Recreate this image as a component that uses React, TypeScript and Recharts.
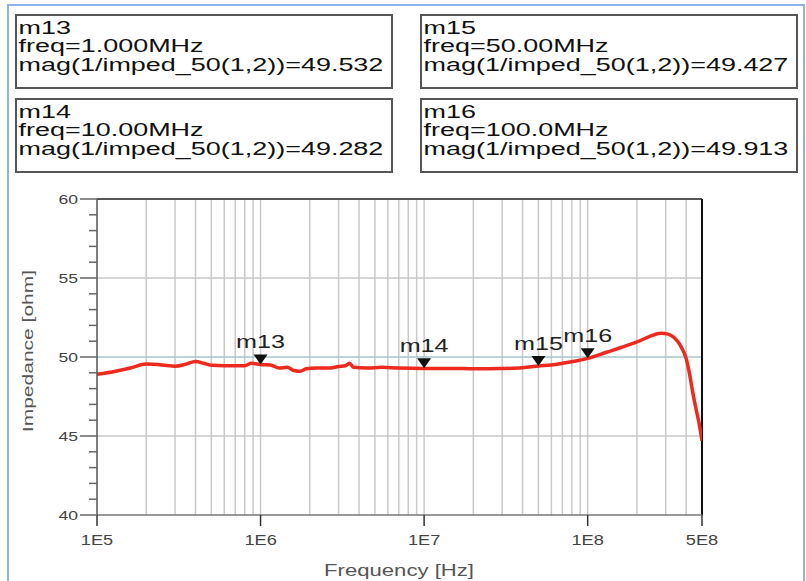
import React from 'react';
import { LineChart, Line, XAxis, YAxis, ReferenceLine, ReferenceDot } from 'recharts';

// measured trace (Hz, ohm)
const freqs = [
  1e5, 1.3e5, 1.6e5, 2e5, 2.5e5, 3e5, 3.5e5, 4e5, 4.5e5, 5e5, 6e5, 7e5, 8e5, 8.8e5,
  1e6, 1.15e6, 1.3e6, 1.45e6, 1.6e6, 1.75e6, 1.9e6, 2.2e6, 2.6e6, 3e6, 3.3e6, 3.5e6, 3.7e6,
  4.5e6, 5.5e6, 7e6, 1e7, 1.5e7, 2e7, 3e7, 4e7, 5e7, 6e7, 7e7, 8.5e7, 1e8, 1.3e8, 1.6e8,
  2e8, 2.4e8, 2.8e8, 3.1e8, 3.4e8, 3.7e8, 4e8, 4.2e8, 4.4e8, 4.6e8, 4.8e8, 5e8,
];
const imped = [
  48.9, 49.1, 49.3, 49.55, 49.5, 49.42, 49.55, 49.72, 49.6, 49.48, 49.45, 49.45, 49.45, 49.6,
  49.53, 49.5, 49.3, 49.35, 49.15, 49.1, 49.25, 49.3, 49.3, 49.4, 49.45, 49.6, 49.35,
  49.3, 49.35, 49.3, 49.28, 49.28, 49.25, 49.27, 49.32, 49.43, 49.5, 49.6, 49.75, 49.91, 50.3, 50.6,
  50.95, 51.3, 51.5, 51.45, 51.2, 50.7, 49.9, 48.9, 47.7, 46.7, 45.8, 44.7,
];

const markerNames = ['m13', 'm14', 'm15', 'm16'];
const markerFreqs = [1e6, 1e7, 5e7, 1e8];
const markerFreqText = ['1.000MHz', '10.00MHz', '50.00MHz', '100.0MHz'];
const markerVals = [49.532, 49.282, 49.427, 49.913];

const xTicks = [1e5, 1e6, 1e7, 1e8, 5e8];
const xTickLabels = ['1E5', '1E6', '1E7', '1E8', '5E8'];
const yTicks = [40, 41, 42, 43, 44, 45, 46, 47, 48, 49, 50, 51, 52, 53, 54, 55, 56, 57, 58, 59, 60];
const gridFreqs = [
  2e5, 3e5, 4e5, 5e5, 6e5, 7e5, 8e5, 9e5, 1e6,
  2e6, 3e6, 4e6, 5e6, 6e6, 7e6, 8e6, 9e6, 1e7,
  2e7, 3e7, 4e7, 5e7, 6e7, 7e7, 8e7, 9e7, 1e8,
  2e8, 3e8, 4e8,
];
const gridImped = [45, 50, 55];

const data = freqs.map((f, i) => ({ f, z: imped[i] }));

const FONT = '"Liberation Sans", Arial, sans-serif';

const YTick = (props: any) => {
  const { x, y, payload } = props;
  const v = payload.value;
  const major = v % 5 === 0;
  return (
    <g>
      <line x1={x - (major ? 17 : 8)} x2={x} y1={y} y2={y} stroke="#666" strokeWidth={1.5} />
      {major && (
        <text transform={`translate(${x - 19},${y + 5}) scale(1.35,1)`} textAnchor="end"
          fontSize={13} fontFamily={FONT} fill="#444">{v}</text>
      )}
    </g>
  );
};

const XTick = (props: any) => {
  const { x, y, payload } = props;
  const i = xTicks.indexOf(payload.value);
  return (
    <g>
      <line x1={x} x2={x} y1={y} y2={y + 11} stroke="#333" strokeWidth={1.5} />
      <text transform={`translate(${x},${y + 30}) scale(1.3,1)`} textAnchor="middle"
        fontSize={14} fontFamily={FONT} fill="#444">{i >= 0 ? xTickLabels[i] : ''}</text>
    </g>
  );
};

const markerShape = (name: string) => (props: any) => {
  const { cx, cy } = props;
  return (
    <g>
      <path d={`M${cx - 7},${cy - 10} L${cx + 7},${cy - 10} L${cx},${cy} Z`} fill="#111" />
      <text transform={`translate(${cx},${cy - 16}) scale(1.4,1)`} textAnchor="middle"
        fontSize={18} fontFamily={FONT} fill="#222">{name}</text>
    </g>
  );
};

const boxPos = [
  { left: 15, top: 14 },
  { left: 15, top: 98 },
  { left: 420, top: 14 },
  { left: 420, top: 98 },
];

function MarkerBox({ i }: { i: number }) {
  const p = boxPos[i];
  return (
    <div style={{
      position: 'absolute', left: p.left, top: p.top, width: 374, height: 71,
      border: '2px solid #555', background: '#fff', overflow: 'hidden',
    }}>
      <div style={{
        transform: 'scaleX(1.54)', transformOrigin: 'left top', paddingTop: 3, paddingLeft: 1,
        fontFamily: FONT, fontSize: 17.5, lineHeight: '18.3px', color: '#111', whiteSpace: 'nowrap',
      }}>
        <div>{markerNames[i]}</div>
        <div>freq={markerFreqText[i]}</div>
        <div>mag(1/imped_50(1,2))={markerVals[i].toFixed(3)}</div>
      </div>
    </div>
  );
}

export default function App() {
  return (
    <div style={{ position: 'absolute', left: 0, top: 0, width: 806, height: 581, overflow: 'hidden', background: '#fff' }}>
      <div style={{ position: 'absolute', left: 7, top: 4, width: 794, height: 620, border: '2.5px solid #8cb4e4' }} />
      {[0, 1, 2, 3].map((i) => <MarkerBox key={i} i={i} />)}
      <div style={{ position: 'absolute', left: 0, top: 0 }}>
        <LineChart width={806} height={581} data={data}
          margin={{ top: 199, right: 104, bottom: 36, left: 37 }}>
          {gridFreqs.map((f) => (
            <ReferenceLine key={`gx${f}`} x={f} stroke="#c9c9c9" strokeWidth={1.5} zIndex={-50} />
          ))}
          {gridImped.map((v) => (
            <ReferenceLine key={`gy${v}`} y={v} stroke={v === 50 ? '#a9c6cc' : '#c9c9c9'} strokeWidth={1.5} zIndex={-50} />
          ))}
          <ReferenceLine y={60} stroke="#555" strokeWidth={2} />
          <ReferenceLine x={5e8} stroke="#111" strokeWidth={2} />
          <XAxis dataKey="f" type="number" scale="log" domain={[1e5, 5e8]} allowDataOverflow
            ticks={xTicks} interval={0} tick={<XTick />} tickLine={false} tickSize={0} tickMargin={0}
            axisLine={{ stroke: '#777', strokeWidth: 1.5 }} height={30} />
          <YAxis type="number" domain={[40, 60]} ticks={yTicks} interval={0} tick={<YTick />}
            tickLine={false} tickSize={0} tickMargin={0} width={60}
            axisLine={{ stroke: '#555', strokeWidth: 1.5 }} />
          <Line type="monotone" dataKey="z" stroke="#ec2a1e" strokeWidth={3.5} dot={false}
            isAnimationActive={false} />
          {markerFreqs.map((f, i) => (
            <ReferenceDot key={markerNames[i]} x={f} y={markerVals[i]} r={0} zIndex={1000}
              shape={markerShape(markerNames[i])} />
          ))}
        </LineChart>
      </div>
      <div style={{
        position: 'absolute', left: 27, top: 351, transform: 'translate(-50%,-50%) rotate(-90deg) scaleX(1.4)',
        fontFamily: FONT, fontSize: 15, color: '#555', whiteSpace: 'nowrap',
      }}>Impedance [ohm]</div>
      <div style={{
        position: 'absolute', left: 399, top: 571, transform: 'translate(-50%,-50%) scaleX(1.3)',
        fontFamily: FONT, fontSize: 17, color: '#555', whiteSpace: 'nowrap',
      }}>Frequency [Hz]</div>
    </div>
  );
}
